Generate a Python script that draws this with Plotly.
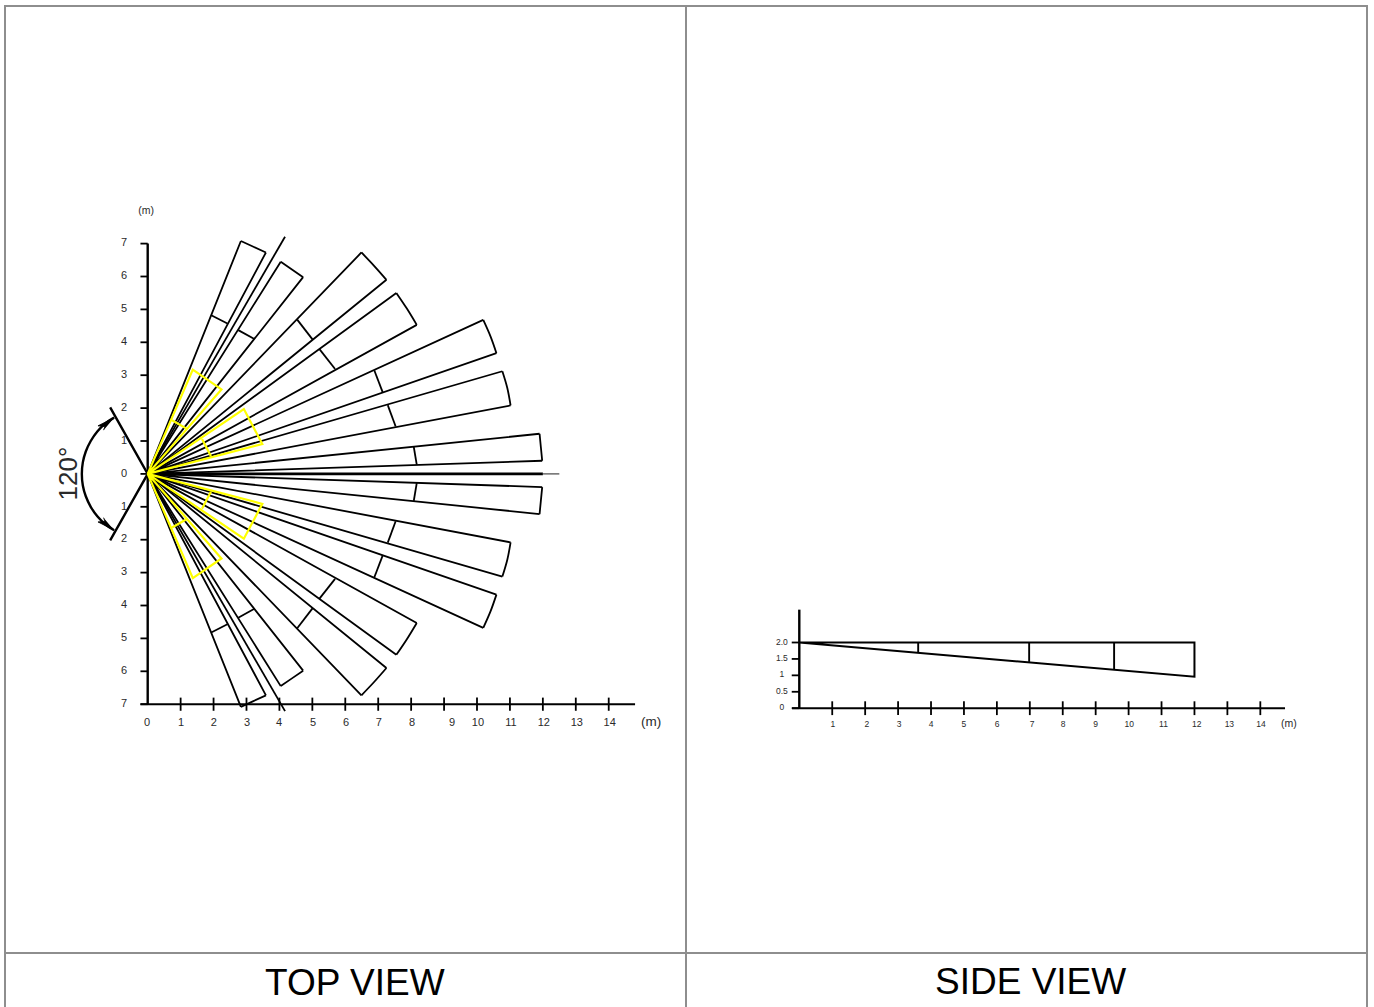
import plotly.graph_objects as go

W, H = 1374, 1007
FONT = "Liberation Sans"
INK = "#000000"
TXT = "#2a2a2a"
FRAME = "#8e8e8e"
YEL = "#ffff00"

# ---- top view data (metres); the lower half mirrors these
BEAM_A = [(2.83, 7.08), (4.04, 6.45), (6.49, 6.73), (7.55, 5.50), (10.19, 4.68), (10.77, 3.12), (11.90, 1.22)]
BEAM_MID = [(3.21, 6.905), (4.38, 6.215), (6.875, 6.325), (7.87, 5.025), (10.41, 4.18), (10.92, 2.61), (11.94, 0.81)]
BEAM_B = [(3.59, 6.73), (4.72, 5.98), (7.25, 5.90), (8.17, 4.53), (10.59, 3.67), (11.02, 2.08), (11.98, 0.40)]
CROSS_A = [(1.93, 4.82), (2.75, 4.37), (4.54, 4.69), (5.21, 3.80), (6.88, 3.15), (7.29, 2.09), (8.08, 0.82)]
CROSS_B = [(2.42, 4.57), (3.24, 4.10), (5.01, 4.08), (5.69, 3.19), (7.14, 2.47), (7.53, 1.44), (8.17, 0.28)]
EDGE_LINE = (4.17, 7.21)
YEL_FAR_A = [(1.37, 3.17), (2.92, 1.97)]
YEL_FAR_B = [(2.24, 2.57), (3.48, 0.91)]
YEL_CROSS_A = [(0.74, 1.63), (1.65, 1.06)]
YEL_CROSS_B = [(1.19, 1.37), (1.92, 0.54)]
WING = (-1.14, 2.02)
ARC_X = [-2.0, -1.97, -1.88, -1.73, -1.53, -1.29, -1.02]
ARC_Y = [0.0, 0.35, 0.68, 1.0, 1.29, 1.53, 1.71]
HEAD_X = [-1.02, -1.51, -1.30, -1.34]
HEAD_Y = [1.71, 1.46, 1.44, 1.33]
TOP_X_TICKS = list(range(1, 15))
TOP_X_LABELS = ["0", "1", "2", "3", "4", "5", "6", "7", "8", "9", "10", "11", "12", "13", "14"]
TOP_X_LABEL_POS = [-0.02, 1.01, 2.01, 3.02, 3.99, 5.02, 6.02, 7.02, 8.03, 9.24, 10.03, 11.03, 12.03, 13.03, 14.03]
TOP_Y_TICKS = [7, 6, 5, 4, 3, 2, 1, 0, -1, -2, -3, -4, -5, -6, -7]
TOP_Y_LABELS = ["7", "6", "5", "4", "3", "2", "1", "0", "1", "2", "3", "4", "5", "6", "7"]

# ---- side view data (metres)
SIDE_DIV_X = [3.61, 6.98, 9.56, 12.0]
SIDE_DIV_BOTTOM = [1.70, 1.41, 1.18, 0.96]
SIDE_HEIGHT = 2.0
SIDE_X_TICKS = list(range(1, 15))
SIDE_X_LABELS = ["1", "2", "3", "4", "5", "6", "7", "8", "9", "10", "11", "12", "13", "14"]
SIDE_X_LABEL_POS = [1.02, 2.05, 3.03, 4.0, 5.0, 6.01, 7.07, 8.01, 9.0, 10.02, 11.06, 12.07, 13.06, 14.02]
SIDE_Y_TICKS = [0, 0.5, 1, 1.5, 2.0]
SIDE_Y_LABELS = ["0", "0.5", "1", "1.5", "2.0"]

# ---- pixel placement of the two metric scales
TOP_O = (147.7, 473.9)
TOP_S = (32.93, 32.9)
SIDE_O = (799.3, 708.2)
SIDE_S = (32.93, 32.85)


def xr(o, s):
    return [-o / s, (W - o) / s]


def yr(o, s):
    return [(o - H) / s, o / s]


fig = go.Figure()


def line(xs, ys, color=INK, width=1.8, axes=("x", "y"), shape="linear"):
    fig.add_trace(go.Scatter(x=xs, y=ys, mode="lines", xaxis=axes[0], yaxis=axes[1],
                             line=dict(color=color, width=width, shape=shape, simplify=False),
                             hoverinfo="skip", showlegend=False, connectgaps=False))


def text(xs, ys, labels, size, axes=("x", "y")):
    fig.add_trace(go.Scatter(x=xs, y=ys, text=labels, mode="text", xaxis=axes[0], yaxis=axes[1],
                             textposition="middle center",
                             textfont=dict(family=FONT, size=size, color=TXT),
                             hoverinfo="skip", showlegend=False))


# top view: beams
bx, by = [], []
for s in (1, -1):
    for a, b, ca, cb in zip(BEAM_A, BEAM_B, CROSS_A, CROSS_B):
        bx += [a[0], 0, b[0], None, ca[0], cb[0], None]
        by += [s * a[1], 0, s * b[1], None, s * ca[1], s * cb[1], None]
    bx += [0, EDGE_LINE[0], None]
    by += [0, s * EDGE_LINE[1], None]
line(bx, by)

# beam far ends are slight arcs
for s in (1, -1):
    for a, m, b in zip(BEAM_A, BEAM_MID, BEAM_B):
        line([a[0], m[0], b[0]], [s * a[1], s * m[1], s * b[1]], shape="spline")

# top view: centre line
line([12, 12.5], [0, 0], color="#444444", width=1.2)
line([0, 12], [0, 0], width=2.8)

# top view: axes
line([0, 0], [7, -7], width=2.4)
line([-0.22, 14.8], [-7, -7], width=2)
tx, ty = [], []
for t in TOP_X_TICKS:
    tx += [t, t, None]
    ty += [-6.8, -7.2, None]
line(tx, ty)
tx, ty = [], []
for t in TOP_Y_TICKS:
    tx += [-0.22, 0, None]
    ty += [t, t, None]
line(tx, ty)

# wings, arc, arrowheads
line([WING[0], 0, WING[0]], [WING[1], 0, -WING[1]], width=2.4)
line(ARC_X[::-1] + ARC_X[1:], ARC_Y[::-1] + [-v for v in ARC_Y[1:]], width=2.4, shape="spline")
for s in (1, -1):
    fig.add_trace(go.Scatter(x=HEAD_X, y=[s * v for v in HEAD_Y], mode="lines", fill="toself",
                             fillcolor=INK, line=dict(color=INK, width=0.8),
                             hoverinfo="skip", showlegend=False))

# yellow zones
yx, yy = [], []
for s in (1, -1):
    for a, b, ca, cb in zip(YEL_FAR_A, YEL_FAR_B, YEL_CROSS_A, YEL_CROSS_B):
        yx += [0, a[0], b[0], 0, None, ca[0], cb[0], None]
        yy += [0, s * a[1], s * b[1], 0, None, s * ca[1], s * cb[1], None]
line(yx, yy, color=YEL, width=2.2)

# top view labels
text(TOP_X_LABEL_POS, [-7.57] * len(TOP_X_LABELS), TOP_X_LABELS, 11)
text([-0.72] * len(TOP_Y_TICKS), TOP_Y_TICKS, TOP_Y_LABELS, 11)
text([15.29], [-7.57], ["(m)"], 13.5)
text([-0.05], [7.97], ["(m)"], 10.5)

# side view
S = ("x2", "y2")
line([0, 12, 12, 0], [SIDE_HEIGHT, SIDE_HEIGHT, SIDE_DIV_BOTTOM[-1], SIDE_HEIGHT], width=2, axes=S)
dx, dy = [], []
for x, b in zip(SIDE_DIV_X[:-1], SIDE_DIV_BOTTOM[:-1]):
    dx += [x, x, None]
    dy += [SIDE_HEIGHT, b, None]
line(dx, dy, width=1.9, axes=S)
line([0, 0], [0, 3.0], width=2.4, axes=S)
line([-0.22, 14.75], [0, 0], width=2, axes=S)
tx, ty = [], []
for t in SIDE_X_TICKS:
    tx += [t, t, None]
    ty += [0.21, -0.21, None]
line(tx, ty, axes=S)
tx, ty = [], []
for t in SIDE_Y_TICKS:
    tx += [-0.23, 0, None]
    ty += [t, t, None]
line(tx, ty, axes=S)
text(SIDE_X_LABEL_POS, [-0.52] * len(SIDE_X_LABELS), SIDE_X_LABELS, 8.5, axes=S)
text([-0.53] * len(SIDE_Y_TICKS), SIDE_Y_TICKS, SIDE_Y_LABELS, 8.5, axes=S)
text([14.87], [-0.5], ["(m)"], 10.5, axes=S)

# frame
shapes = []
for x in (5, 686, 1367):
    shapes.append(dict(type="line", xref="paper", yref="paper", x0=x / W, x1=x / W, y0=0, y1=1 - 5 / H,
                       line=dict(color=FRAME, width=2)))
for y in (6, 953):
    shapes.append(dict(type="line", xref="paper", yref="paper", x0=4 / W, x1=1368 / W, y0=1 - y / H, y1=1 - y / H,
                       line=dict(color=FRAME, width=2)))

annotations = [
    dict(text="120°", x=(67.5 - TOP_O[0]) / TOP_S[0], y=0.0, xref="x", yref="y", showarrow=False, textangle=-90,
         xanchor="center", yanchor="middle", font=dict(family=FONT, size=26, color=TXT)),
    dict(text="TOP VIEW", x=354.5 / W, y=1 - 982 / H, xref="paper", yref="paper", showarrow=False,
         xanchor="center", yanchor="middle", font=dict(family=FONT, size=37, color=INK)),
    dict(text="SIDE VIEW", x=1030.5 / W, y=1 - 981 / H, xref="paper", yref="paper", showarrow=False,
         xanchor="center", yanchor="middle", font=dict(family=FONT, size=37, color=INK)),
]

hidden = dict(visible=False, fixedrange=True, domain=[0, 1])
fig.update_layout(
    width=W, height=H, margin=dict(l=0, r=0, t=0, b=0, pad=0),
    plot_bgcolor="white", paper_bgcolor="white", showlegend=False,
    shapes=shapes, annotations=annotations,
    xaxis=dict(range=xr(TOP_O[0], TOP_S[0]), **hidden),
    yaxis=dict(range=yr(TOP_O[1], TOP_S[1]), **hidden),
    xaxis2=dict(range=xr(SIDE_O[0], SIDE_S[0]), anchor="y2", overlaying="x", **hidden),
    yaxis2=dict(range=yr(SIDE_O[1], SIDE_S[1]), anchor="x2", overlaying="y", **hidden),
)

fig.write_html("out.html", config=dict(displayModeBar=False),
               post_script="document.body.style.margin='0';document.documentElement.style.overflow='hidden';")
